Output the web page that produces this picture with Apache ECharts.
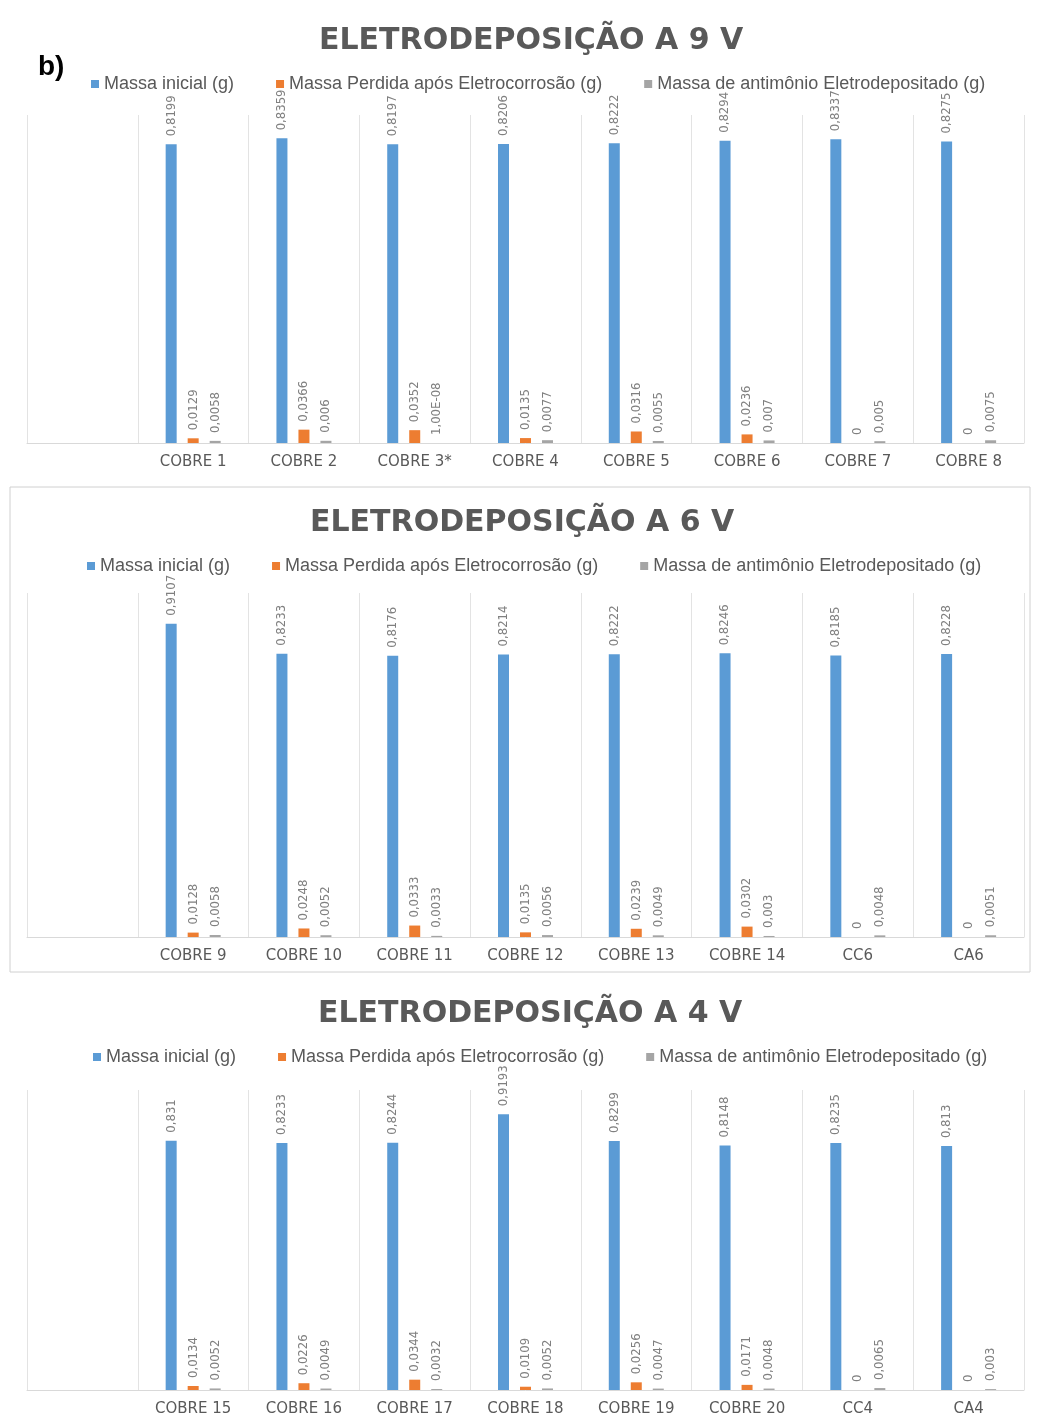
<!DOCTYPE html>
<html>
<head>
<meta charset="utf-8">
<script src="https://cdn.jsdelivr.net/npm/echarts@6/dist/echarts.min.js"></script>
<style>
  body { margin: 0; background: #fff; }
  #chart { width: 1038px; height: 1420px; }
</style>
</head>
<body>
<div id="chart"></div>
<script>
  // nomes das series
  var serieNames = ['Massa inicial (g)', 'Massa Perdida após Eletrocorrosão (g)', 'Massa de antimônio Eletrodepositado (g)']

  // 9 V
  var cat9v = ['', 'COBRE 1', 'COBRE 2', 'COBRE 3*', 'COBRE 4', 'COBRE 5', 'COBRE 6', 'COBRE 7', 'COBRE 8']
  var inicial9v = [0.8199, 0.8359, 0.8197, 0.8206, 0.8222, 0.8294, 0.8337, 0.8275]
  var perdida9v = [0.0129, 0.0366, 0.0352, 0.0135, 0.0316, 0.0236, 0, 0]
  var antimonio9v = [0.0058, 0.006, 0.00000001, 0.0077, 0.0055, 0.007, 0.005, 0.0075]

  // 6 V
  var cat6v = ['', 'COBRE 9', 'COBRE 10', 'COBRE 11', 'COBRE 12', 'COBRE 13', 'COBRE 14', 'CC6', 'CA6']
  var inicial6v = [0.9107, 0.8233, 0.8176, 0.8214, 0.8222, 0.8246, 0.8185, 0.8228]
  var perdida6v = [0.0128, 0.0248, 0.0333, 0.0135, 0.0239, 0.0302, 0, 0]
  var antimonio6v = [0.0058, 0.0052, 0.0033, 0.0056, 0.0049, 0.003, 0.0048, 0.0051]

  // 4 V
  var cat4v = ['', 'COBRE 15', 'COBRE 16', 'COBRE 17', 'COBRE 18', 'COBRE 19', 'COBRE 20', 'CC4', 'CA4']
  var inicial4v = [0.831, 0.8233, 0.8244, 0.9193, 0.8299, 0.8148, 0.8235, 0.813]
  var perdida4v = [0.0134, 0.0226, 0.0344, 0.0109, 0.0256, 0.0171, 0, 0]
  var antimonio4v = [0.0052, 0.0049, 0.0032, 0.0052, 0.0047, 0.0048, 0.0065, 0.003]

  var colors = ['#5b9bd5', '#ed7d31', '#a5a5a5']
  var textGray = '#595959'

  // formato pt-BR com virgula
  function fmt (v) {
    if (v > 0 && v < 0.0001) {
      return v.toExponential(2).toUpperCase().replace('.', ',').replace(/E([+-])(\d)$/, 'E$10$2')
    }
    return String(v).replace('.', ',')
  }

  function makeSeries (name, color, values, idx) {
    return {
      name: name,
      type: 'bar',
      xAxisIndex: idx,
      yAxisIndex: idx,
      barWidth: 11,
      barGap: '100%',
      itemStyle: { color: color },
      label: {
        show: true,
        position: 'top',
        rotate: 90,
        align: 'left',
        verticalAlign: 'middle',
        distance: 8,
        fontSize: 13,
        fontFamily: 'Liberation Sans Narrow, DejaVu Sans Condensed, sans-serif',
        color: '#808080',
        formatter: function (p) { return fmt(p.value) }
      },
      data: ['-'].concat(values)
    }
  }

  function makeXAxis (cats, idx) {
    return {
      type: 'category',
      gridIndex: idx,
      data: cats,
      axisTick: { show: false },
      axisLine: { lineStyle: { color: '#d9d9d9' } },
      splitLine: { show: true, lineStyle: { color: '#e3e3e3' } },
      axisLabel: { color: textGray, fontSize: 15, margin: 12, fontFamily: 'DejaVu Sans' }
    }
  }

  function makeYAxis (max, idx) {
    return { type: 'value', gridIndex: idx, min: 0, max: max, show: false, splitLine: { show: false } }
  }

  function makeTitle (text, left, top) {
    return {
      text: text,
      left: left,
      top: top,
      textStyle: { fontSize: 30, fontWeight: 'bold', color: textGray, fontFamily: 'DejaVu Sans' }
    }
  }

  function makeLegend (left, top) {
    return {
      top: top,
      left: left,
      data: serieNames,
      icon: 'rect',
      itemWidth: 8,
      itemHeight: 8,
      itemGap: 42,
      textStyle: { color: textGray, fontSize: 18, fontFamily: 'Liberation Sans' }
    }
  }

  var option = {
    animation: false,
    title: [
      makeTitle('ELETRODEPOSIÇÃO A 9 V', 314, 21),
      makeTitle('ELETRODEPOSIÇÃO A 6 V', 305, 503),
      makeTitle('ELETRODEPOSIÇÃO A 4 V', 313, 994)
    ],
    legend: [makeLegend(86, 70), makeLegend(82, 552), makeLegend(88, 1043)],
    grid: [
      { left: 27, right: 14, top: 115, height: 328 },
      { left: 27, right: 14, top: 593, height: 344 },
      { left: 27, right: 14, top: 1090, height: 300 }
    ],
    xAxis: [makeXAxis(cat9v, 0), makeXAxis(cat6v, 1), makeXAxis(cat4v, 2)],
    yAxis: [makeYAxis(0.9, 0), makeYAxis(1, 1), makeYAxis(1, 2)],
    graphic: [
      {
        type: 'text',
        left: 38,
        top: 53,
        style: { text: 'b)', fontSize: 28, fontWeight: 'bold', fill: '#000', fontFamily: 'Liberation Sans' }
      },
      {
        type: 'rect',
        shape: { x: 10, y: 487, width: 1020, height: 485 },
        style: { fill: 'none', stroke: '#d0d0d0', lineWidth: 1 }
      }
    ],
    series: [
      makeSeries(serieNames[0], colors[0], inicial9v, 0),
      makeSeries(serieNames[1], colors[1], perdida9v, 0),
      makeSeries(serieNames[2], colors[2], antimonio9v, 0),
      makeSeries(serieNames[0], colors[0], inicial6v, 1),
      makeSeries(serieNames[1], colors[1], perdida6v, 1),
      makeSeries(serieNames[2], colors[2], antimonio6v, 1),
      makeSeries(serieNames[0], colors[0], inicial4v, 2),
      makeSeries(serieNames[1], colors[1], perdida4v, 2),
      makeSeries(serieNames[2], colors[2], antimonio4v, 2)
    ]
  }

  var chart = echarts.init(document.getElementById('chart'))
  chart.setOption(option)
</script>
</body>
</html>
